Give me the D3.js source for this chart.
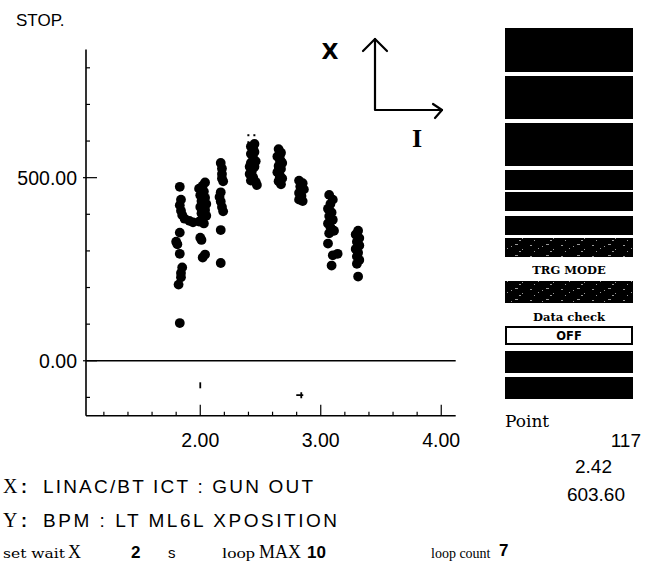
<!DOCTYPE html>
<html>
<head>
<meta charset="utf-8">
<script src="https://cdn.jsdelivr.net/npm/d3@7"></script>
<style>
  body { margin: 0; background: #fff; }
  svg { display: block; }
</style>
</head>
<body>
<svg id="chart" width="654" height="582"></svg>
<script>
// Scan readings: X = LINAC/BT ICT gun-out charge, Y = BPM LT ML6L x-position
const xValues = [
  // step ~1.83
  1.83, 1.84, 1.83, 1.84, 1.85, 1.87, 1.91, 1.94, 1.83, 1.80, 1.81, 1.83, 1.85, 1.84, 1.84, 1.82, 1.83,
  // step ~2.02
  2.04, 2.02, 1.99, 2.03, 2.00, 2.04, 2.01, 2.05, 2.00, 2.04, 2.01, 2.05, 2.02, 1.99, 2.03, 2.00, 2.01, 2.02, 2.04, 2.03,
  // step ~2.17
  2.17, 2.18, 2.18, 2.19, 2.17, 2.16, 2.17, 2.18, 2.19, 2.17, 2.17, 2.18,
  // step ~2.43
  2.45, 2.44, 2.42, 2.44, 2.42, 2.45, 2.43, 2.41, 2.44, 2.42, 2.46, 2.47, 2.41, 2.46, 2.43, 2.45, 2.42,
  // step ~2.66
  2.65, 2.67, 2.64, 2.66, 2.68, 2.65, 2.67, 2.64, 2.66, 2.68, 2.65, 2.67, 2.66, 2.65, 2.67, 2.66,
  // step ~2.84
  2.82, 2.85, 2.83, 2.86, 2.82, 2.84, 2.82, 2.85,
  // step ~3.08
  3.07, 3.10, 3.08, 3.06, 3.09, 3.07, 3.10, 3.06, 3.08, 3.11, 3.07, 3.06, 3.14, 3.10, 3.09,
  // step ~3.31
  3.31, 3.29, 3.32, 3.30, 3.32, 3.29, 3.31, 3.30, 3.32, 3.30, 3.31
];
const yValues = [
  475, 440, 425, 410, 398, 388, 382, 378, 350, 325, 318, 292, 255, 240, 228, 208, 103,
  487, 478, 470, 462, 452, 445, 436, 428, 420, 412, 403, 396, 388, 380, 375, 336, 330, 282, 290, 400,
  540, 525, 510, 490, 460, 447, 435, 420, 408, 357, 267, 498,
  592, 578, 565, 552, 540, 530, 520, 510, 500, 492, 488, 480, 530, 545, 505, 570, 585,
  578, 568, 558, 548, 540, 532, 524, 515, 506, 498, 490, 482, 560, 520, 545, 500,
  492, 485, 476, 468, 458, 450, 440, 436,
  453, 440, 428, 415, 405, 395, 385, 375, 365, 355, 348, 320, 292, 288, 260,
  355, 345, 335, 325, 315, 305, 295, 285, 275, 265, 230
];

// Latest reading (cursor)
const currentX = 2.42;
const currentY = 603.60;
const pointCount = xValues.length + 1;

// Off-scale glitch readings below zero
const strayX = [2.00, 2.83];
const strayY = [-67, -94];

// Axis ticks
const xMinorTicks = d3.range(12, 41, 2).map(d => d / 10);
const xLabelTicks = [2, 3, 4];
const yMinorTicks = d3.range(-100, 801, 100);
const yLabelTicks = [0, 500];

// Status texts
const xChannel = "LINAC/BT ICT : GUN OUT";
const yChannel = "BPM : LT ML6L XPOSITION";
const setWait = 2;
const loopMax = 10;
const loopCount = 7;

const svg = d3.select("#chart");
const sans = "'Liberation Sans', Arial, sans-serif";
const wideSans = "'DejaVu Sans', 'Liberation Sans', sans-serif";
const serif = "'DejaVu Serif', 'Liberation Serif', serif";
const romanSerif = "'Liberation Serif', 'Times New Roman', serif";

const x = d3.scaleLinear().domain([1.06, 4.12]).range([87, 455.7]);
const y = d3.scaleLinear().domain([-150, 850]).range([415.7, 49.5]);

// Texture for the dimmed buttons
const defs = svg.append("defs");
const pat = defs.append("pattern").attr("id", "speckle")
  .attr("patternUnits", "userSpaceOnUse").attr("width", 31).attr("height", 11);
pat.append("rect").attr("width", 31).attr("height", 11).attr("fill", "#000");
[[3,3,2,1],[11,6,1,1],[19,2,3,1],[26,7,1,1],[7,9,1,1],[15,4,1,1],[23,9,2,1]].forEach(s =>
  pat.append("rect").attr("x", s[0]).attr("y", s[1]).attr("width", s[2]).attr("height", s[3]).attr("fill", "#999"));

// Title
svg.append("text").attr("x", 16).attr("y", 26).attr("font-family", sans)
  .attr("font-size", 17).text("STOP.");

// Axes frame
const g = svg.append("g").attr("stroke", "#000").attr("fill", "none");
g.append("line").attr("x1", x.range()[0] - 1).attr("x2", x.range()[0] - 1)
  .attr("y1", y.range()[1]).attr("y2", y.range()[0]).attr("stroke-width", 1.6);
g.append("line").attr("x1", x.range()[0] - 1).attr("x2", x.range()[1])
  .attr("y1", y.range()[0]).attr("y2", y.range()[0]).attr("stroke-width", 1.6);
// zero line
g.append("line").attr("x1", x.range()[0]).attr("x2", x.range()[1])
  .attr("y1", y(0)).attr("y2", y(0)).attr("stroke-width", 1.3);

// y ticks
g.selectAll(".ym").data(yMinorTicks).join("line")
  .attr("x1", x.range()[0] - 1).attr("x2", d => yLabelTicks.includes(d) ? x.range()[0] + 10 : x.range()[0] + 3)
  .attr("y1", d => y(d)).attr("y2", d => y(d)).attr("stroke-width", 1.2);
g.selectAll(".yl").data(yLabelTicks).join("line")
  .attr("x1", x.range()[0] - 4).attr("x2", x.range()[0]).attr("y1", d => y(d)).attr("y2", d => y(d))
  .attr("stroke-width", 1.2);
// x ticks
g.selectAll(".xm").data(xMinorTicks).join("line")
  .attr("x1", d => x(d)).attr("x2", d => x(d))
  .attr("y1", y.range()[0]).attr("y2", d => xLabelTicks.some(t => Math.abs(t - d) < 1e-6) ? y.range()[0] - 11 : y.range()[0] - 4)
  .attr("stroke-width", 1.2);

const fmt = d3.format(".2f");
svg.selectAll(".ylab").data(yLabelTicks).join("text")
  .attr("x", 77).attr("y", d => y(d) + 7).attr("text-anchor", "end")
  .attr("font-family", sans).attr("font-size", 19.5).text(d => fmt(d));
svg.selectAll(".xlab").data(xLabelTicks).join("text")
  .attr("x", d => x(d)).attr("y", 447).attr("text-anchor", "middle")
  .attr("font-family", sans).attr("font-size", 19.5).text(d => fmt(d));

// Scatter points
svg.append("g").selectAll("circle").data(xValues).join("circle")
  .attr("cx", d => x(d)).attr("cy", (d, i) => y(yValues[i])).attr("r", 4.9).attr("fill", "#000");

// Cursor at the latest reading
const cx0 = x(currentX), cy0 = y(currentY);
svg.append("g").selectAll("rect").data([[-3.5,-5.5],[2.5,-5.5],[-3.5,1.5]]).join("rect")
  .attr("x", d => cx0 + d[0]).attr("y", d => cy0 + d[1]).attr("width", 2).attr("height", 2).attr("fill", "#000");

// Glitch marks
const sg = svg.append("g").attr("stroke", "#000").attr("fill", "none").attr("stroke-width", 1.8);
sg.append("line").attr("x1", x(strayX[0])).attr("x2", x(strayX[0]))
  .attr("y1", y(strayY[0]) - 3).attr("y2", y(strayY[0]) + 3);
sg.append("path").attr("d", () => {
  const px = x(strayX[1]), py = y(strayY[1]);
  return `M${px - 4},${py}H${px + 3}M${px + 1},${py - 3}V${py + 3}`;
});

// Orientation glyph: X up, I right
const og = svg.append("g").attr("stroke", "#000").attr("fill", "none").attr("stroke-width", 2.2)
  .attr("stroke-linecap", "round").attr("stroke-linejoin", "round");
og.append("path").attr("d", "M375,39V110H442");
og.append("path").attr("d", "M363,51L375,39L387,51");
og.append("path").attr("d", "M433,104L442,110L435,118");
svg.append("text").attr("x", 330).attr("y", 59).attr("text-anchor", "middle")
  .attr("font-family", wideSans).attr("font-size", 22).attr("font-weight", 700).text("X");
svg.append("text").attr("x", 417).attr("y", 147).attr("text-anchor", "middle")
  .attr("font-family", romanSerif).attr("font-size", 26).attr("font-weight", 700).text("I");

// Control panel buttons
const panelX = 505, panelW = 128;
const buttons = [
  { y: 28, h: 44, kind: "solid" }, { y: 76, h: 43, kind: "solid" }, { y: 123, h: 43, kind: "solid" },
  { y: 170, h: 20, kind: "solid" }, { y: 192, h: 19, kind: "solid" }, { y: 216, h: 19, kind: "solid" },
  { y: 238, h: 19, kind: "dim" }, { y: 281, h: 22, kind: "dim" },
  { y: 327, h: 17, kind: "off" }, { y: 351, h: 22, kind: "solid" }, { y: 377, h: 22, kind: "solid" }
];
svg.append("g").selectAll("rect").data(buttons).join("rect")
  .attr("x", d => d.kind === "off" ? panelX + 1 : panelX).attr("y", d => d.y)
  .attr("width", d => d.kind === "off" ? panelW - 2 : panelW).attr("height", d => d.h)
  .attr("fill", d => d.kind === "solid" ? "#000" : d.kind === "dim" ? "url(#speckle)" : "#fff")
  .attr("stroke", d => d.kind === "off" ? "#000" : "none").attr("stroke-width", 2);
const midX = panelX + panelW / 2;
svg.append("text").attr("x", midX).attr("y", 274).attr("text-anchor", "middle")
  .attr("font-family", serif).attr("font-weight", 700).attr("font-size", 11.5).text("TRG MODE");
svg.append("text").attr("x", midX).attr("y", 321).attr("text-anchor", "middle")
  .attr("font-family", serif).attr("font-weight", 700).attr("font-size", 11.5).text("Data check");
svg.append("text").attr("x", midX).attr("y", 340).attr("text-anchor", "middle")
  .attr("font-family", wideSans).attr("font-weight", 700).attr("font-size", 11.5).text("OFF");

// Readout of the latest point
svg.append("text").attr("x", 505).attr("y", 427).attr("font-family", serif)
  .attr("font-size", 17).text("Point");
svg.append("text").attr("x", 641).attr("y", 447).attr("text-anchor", "end")
  .attr("font-family", sans).attr("font-size", 19).text(pointCount);
svg.append("text").attr("x", 612).attr("y", 473).attr("text-anchor", "end")
  .attr("font-family", sans).attr("font-size", 19).text(fmt(currentX));
svg.append("text").attr("x", 625).attr("y", 501).attr("text-anchor", "end")
  .attr("font-family", sans).attr("font-size", 19).text(fmt(currentY));

// Channel lines
[["X", xChannel, 493, 270], ["Y", yChannel, 527, 294]].forEach(([ax, label, by, w]) => {
  svg.append("text").attr("x", 3).attr("y", by).attr("font-family", romanSerif)
    .attr("font-size", 20).text(ax);
  svg.append("text").attr("x", 21).attr("y", by).attr("font-family", sans)
    .attr("font-size", 18).attr("font-weight", 700).text(":");
  svg.append("text").attr("x", 43).attr("y", by).attr("font-family", sans)
    .attr("font-size", 19).attr("textLength", w).attr("lengthAdjust", "spacing").text(label);
});

// Loop settings line
const by = 558;
svg.append("text").attr("x", 3).attr("y", by).attr("font-family", serif).attr("font-size", 13)
  .attr("textLength", 62).attr("lengthAdjust", "spacingAndGlyphs").text("set wait");
svg.append("text").attr("x", 68).attr("y", by).attr("font-family", romanSerif).attr("font-size", 18).text("X");
svg.append("text").attr("x", 131).attr("y", by).attr("font-family", sans).attr("font-size", 17).attr("font-weight", 700).text(setWait);
svg.append("text").attr("x", 168).attr("y", by).attr("font-family", sans).attr("font-size", 15).text("s");
svg.append("text").attr("x", 222).attr("y", by).attr("font-family", romanSerif).attr("font-size", 15.5)
  .attr("textLength", 33).attr("lengthAdjust", "spacingAndGlyphs").text("loop");
svg.append("text").attr("x", 259).attr("y", by).attr("font-family", romanSerif).attr("font-size", 18).text("MAX");
svg.append("text").attr("x", 307).attr("y", by).attr("font-family", sans).attr("font-size", 17).attr("font-weight", 700).text(loopMax);
svg.append("text").attr("x", 431).attr("y", by).attr("font-family", romanSerif).attr("font-size", 14)
  .text("loop count");
svg.append("text").attr("x", 499).attr("y", by - 2).attr("font-family", sans).attr("font-size", 17).attr("font-weight", 700).text(loopCount);
</script>
</body>
</html>
